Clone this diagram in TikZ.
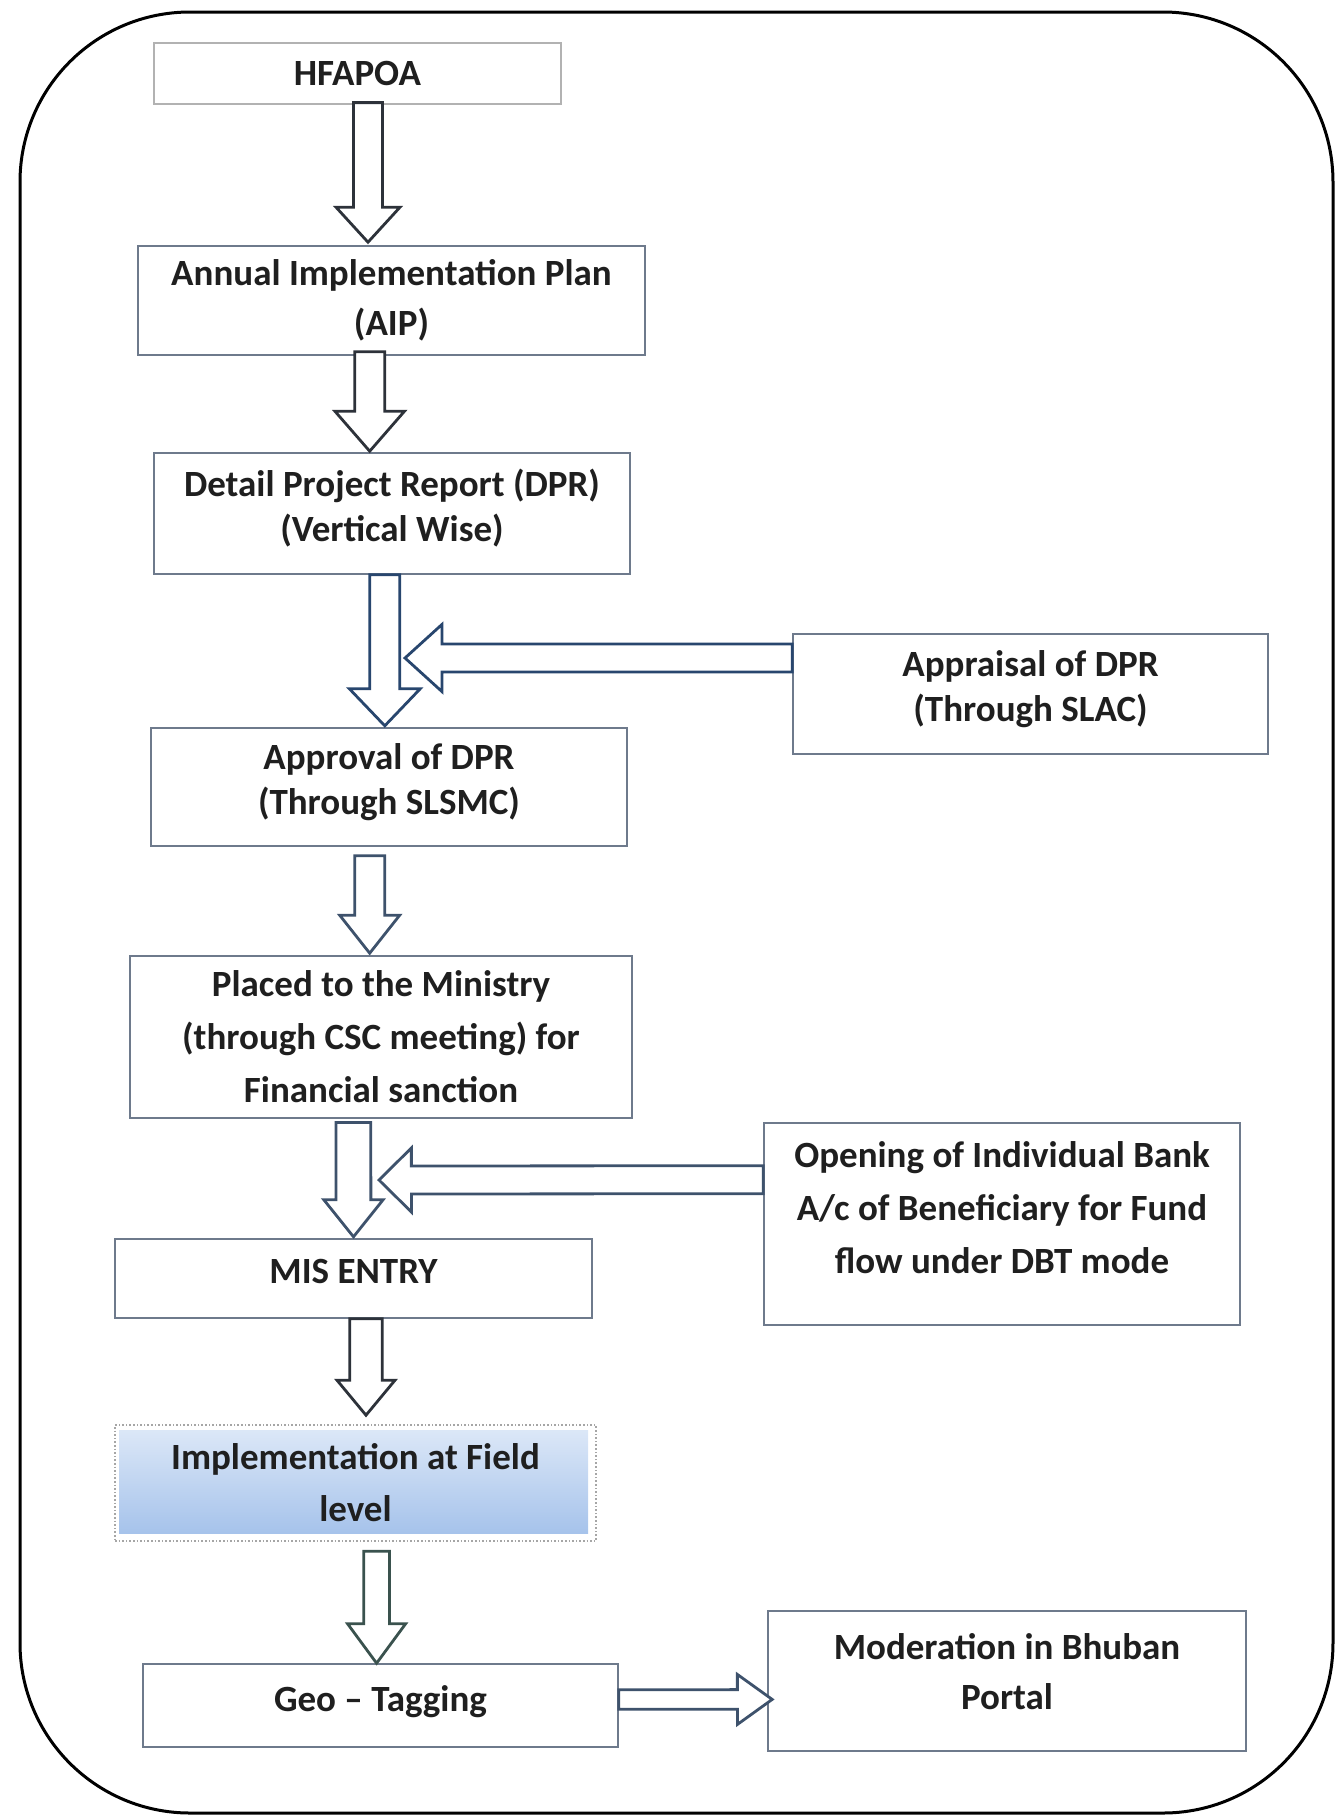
\documentclass[tikz,border=0pt]{standalone}
\usepackage{fontspec}
\setmainfont{Carlito}
\usepackage{tikz}
\usetikzlibrary{calc}

\definecolor{boxline}{RGB}{110,122,140}
\definecolor{arrowdark}{RGB}{45,50,58}
\definecolor{arrowblue}{RGB}{40,70,110}
\definecolor{arrowslate}{RGB}{62,82,108}
\definecolor{arrowgreen}{RGB}{58,82,78}
\definecolor{fieldtop}{RGB}{222,233,248}
\definecolor{fieldbot}{RGB}{162,192,234}

\tikzset{
  box/.style={draw=boxline, line width=0.8pt, fill=white, align=center, inner sep=0pt,
    text=black!88, font=\fontsize{18.5pt}{25pt}\selectfont\bfseries},
  tightbox/.style={box, font=\fontsize{18.5pt}{22.5pt}\selectfont\bfseries},
  loosebox/.style={box, font=\fontsize{18.5pt}{26.5pt}\selectfont\bfseries},
  hollow/.style={draw=arrowdark, line width=1.4pt, fill=white, line join=miter},
}

\newcommand\hollowarrow[6][]{%
  \draw[hollow,#1] let \p1=(#2), \p2=(#3), \p3=($(\p2)!#6!(\p1)$) in
    ($(\p1)!#4!90:(\p2)$) -- ($(\p3)!#4!90:(\p2)$) -- ($(\p3)!#5!90:(\p2)$)
    -- (\p2) -- ($(\p3)!#5!-90:(\p2)$) -- ($(\p3)!#4!-90:(\p2)$)
    -- ($(\p1)!#4!-90:(\p2)$) -- cycle;}

\begin{document}
\begin{tikzpicture}[x=0.5pt,y=-0.5pt]
\useasboundingbox (0,0) rectangle (1343,1817);
\draw[line width=1.5pt, rounded corners=85pt] (20,12) rectangle (1333,1813);

\node[box, draw=black!30, line width=0.6pt, minimum width=203.5pt, minimum height=30.5pt] (hfapoa) at (357.5,73.5) {HFAPOA};
\node[box, minimum width=253.5pt, minimum height=54.5pt] (aip) at (391.5,300.5) {Annual Implementation Plan\\(AIP)};
\node[tightbox, minimum width=238pt, minimum height=60.5pt, text depth=8pt] (dpr) at (392,513.5) {Detail Project Report (DPR)\\(Vertical Wise)};
\node[tightbox, minimum width=238pt, minimum height=59pt, text depth=8pt] (approval) at (389,787) {Approval of DPR\\(Through SLSMC)};
\node[tightbox, minimum width=237.5pt, minimum height=60pt, text depth=8pt] (appraisal) at (1030.5,694) {Appraisal of DPR\\(Through SLAC)};
\node[loosebox, minimum width=251pt, minimum height=81pt] (placed) at (381,1037) {Placed to the Ministry\\(through CSC meeting) for\\Financial sanction};
\node[loosebox, minimum width=238pt, minimum height=101pt, text depth=17pt] (opening) at (1002,1224) {Opening of Individual Bank\\A/c of Beneficiary for Fund\\flow under DBT mode};
\node[box, minimum width=238.5pt, minimum height=39.5pt, text depth=7.5pt] (mis) at (353.5,1278.5) {MIS ENTRY};
\node[box, draw=black!35, densely dotted, fill=none, minimum width=240.5pt, minimum height=58pt,
  font=\fontsize{18.5pt}{26pt}\selectfont\bfseries,
  path picture={\shade[top color=fieldtop, bottom color=fieldbot]
    ([shift={(2pt,-2.5pt)}]path picture bounding box.north west) rectangle
    ([shift={(-4pt,4pt)}]path picture bounding box.south east);}] (field) at (355.5,1483) {Implementation at Field\\level};
\node[box, minimum width=237.5pt, minimum height=41.5pt, text depth=7pt] (geo) at (380.5,1705.5) {Geo -- Tagging};
\node[box, minimum width=239pt, minimum height=70pt, text depth=10pt] (moder) at (1007,1681) {Moderation in Bhuban\\Portal};

\coordinate (slacin) at (405,658);
\coordinate (dbtin) at (379,1180);

\hollowarrow{[xshift=5.25pt,yshift=1pt]hfapoa.south}{[xshift=-11.75pt,yshift=1.5pt]aip.north}{7.25pt}{16pt}{17.5pt}
\hollowarrow{[xshift=-10.9pt,yshift=2pt]aip.south}{[xshift=-11.15pt,yshift=0.5pt]dpr.north}{7.5pt}{17.4pt}{20pt}
\hollowarrow[draw=arrowblue]{[xshift=-3.6pt]dpr.south}{[xshift=-2.1pt,yshift=0.7pt]approval.north}{7.5pt}{17.7pt}{18.5pt}
\hollowarrow[draw=arrowblue]{[yshift=18pt]appraisal.west}{slacin}{7pt}{16.8pt}{18.5pt}
\hollowarrow[draw=arrowslate]{[xshift=-9.65pt,yshift=-4.5pt]approval.south}{[xshift=-5.65pt,yshift=1pt]placed.north}{7.5pt}{15pt}{19pt}
\hollowarrow[draw=arrowslate]{[xshift=-13.8pt,yshift=-1.8pt]placed.south}{[yshift=0.7pt]mis.north}{8.7pt}{14.8pt}{18.5pt}
\hollowarrow[draw=arrowslate]{[yshift=22.15pt]opening.west}{dbtin}{7pt}{16pt}{16.2pt}
\hollowarrow{[xshift=6.25pt]mis.south}{[xshift=5.25pt,yshift=4.5pt]field.north}{8.1pt}{14.5pt}{17.5pt}
\hollowarrow[draw=arrowgreen]{[xshift=10.55pt,yshift=-4.75pt]field.south}{[xshift=-1.95pt]geo.north}{6.4pt}{14.5pt}{19.7pt}
\hollowarrow[draw=arrowslate]{[yshift=3pt]geo.east}{[xshift=2.5pt,yshift=-9.2pt]moder.west}{4.9pt}{12.5pt}{17.4pt}
\end{tikzpicture}
\end{document}
